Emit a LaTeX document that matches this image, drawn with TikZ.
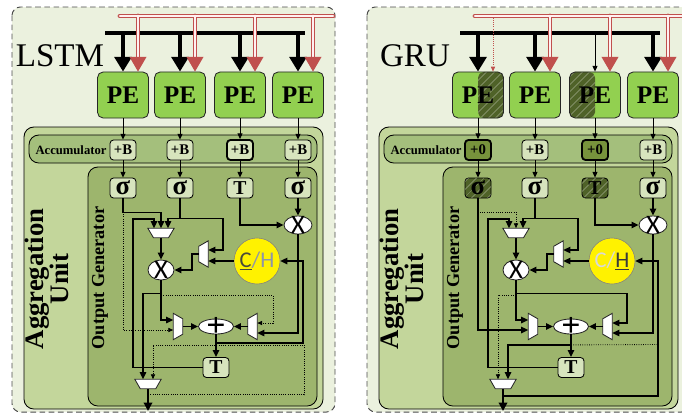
\documentclass[tikz,border=0pt]{standalone}
\usepackage{fontspec}
\setmainfont{Liberation Serif}
\newfontfamily\sanslabel{Carlito}
\usepackage{tikz}
\usetikzlibrary{shapes.geometric}
\usetikzlibrary{arrows.meta}
\usetikzlibrary{patterns.meta}
\usepackage{xcolor}
\definecolor{panelbg}{HTML}{EBF1DE}
\definecolor{aggfill}{HTML}{C3D69B}
\definecolor{accfill}{HTML}{A4BF7C}
\definecolor{genfill}{HTML}{9DB56D}
\definecolor{boxfill}{HTML}{D7E4BD}
\definecolor{zerofill}{HTML}{77933C}
\definecolor{hatchfill}{HTML}{4F6228}
\definecolor{pegreen}{HTML}{92D050}
\definecolor{busred}{HTML}{C0504D}
\definecolor{chdark}{HTML}{4A4A3A}
\definecolor{chmid}{HTML}{8E95A8}
\definecolor{chgrey}{HTML}{D9D9D9}
\definecolor{chblack}{HTML}{3A3A3A}
\newcommand{\sig}{{\fontsize{19}{19}\selectfont σ}}

\begin{document}
\begin{tikzpicture}[x=0.025cm, y=-0.025cm,
    panel/.style={draw=black!70, fill=panelbg, line width=0.7pt, dash pattern=on 4pt off 2.5pt, rounded corners=6pt},
    aggbox/.style={draw=black, fill=aggfill, line width=0.6pt, rounded corners=7pt},
    accstrip/.style={draw=black, fill=accfill, line width=0.6pt, rounded corners=7pt},
    genbox/.style={draw=black, fill=genfill, line width=0.6pt, rounded corners=7pt},
    titlelabel/.style={font=\fontsize{23.5}{28}\selectfont},
    agglabel/.style={rotate=90, align=center, font=\fontsize{19}{18}\selectfont\bfseries},
    genlabel/.style={rotate=90, font=\fontsize{13}{13}\selectfont\bfseries},
    acclabel/.style={font=\fontsize{9}{9}\selectfont\bfseries},
    hatch/.style={fill=hatchfill, postaction={pattern={Lines[angle=45,distance=4pt,line width=0.45pt]}, pattern color=white!60!hatchfill}},
    pebox/.style={draw=black!85, fill=pegreen, line width=0.6pt, rounded corners=4pt, minimum width=1.275cm, minimum height=1.15cm, inner sep=0pt, font=\fontsize{18}{18}\selectfont\bfseries},
    pehatchR/.style={pebox, path picture={\fill[hatch] (path picture bounding box.north) rectangle (path picture bounding box.south east);}},
    pehatchL/.style={pebox, path picture={\fill[hatch] (path picture bounding box.north west) rectangle (path picture bounding box.south);}},
    accbox/.style={draw=black, fill=boxfill, line width=0.6pt, rounded corners=2.5pt, minimum width=0.65cm, minimum height=0.5cm, inner sep=0pt, font=\fontsize{10.5}{10.5}\selectfont\bfseries},
    accbold/.style={accbox, line width=1.3pt},
    acczero/.style={accbox, fill=zerofill, line width=1.3pt},
    actbox/.style={accbox, font=\fontsize{14}{14}\selectfont\bfseries},
    acthatch/.style={actbox, hatch},
    mux/.style={draw=black!85, fill=white, line width=0.6pt},
    xnode/.style={ellipse, draw=black!85, fill=white, line width=0.6pt, minimum width=0.65cm, minimum height=0.5cm, inner sep=0pt, label={[font=\sanslabel\fontsize{19}{19}\selectfont, inner sep=0pt]center:X}},
    sumnode/.style={ellipse, draw=black!85, fill=white, line width=0.6pt, minimum width=0.875cm, minimum height=0.375cm, inner sep=0pt, label={[font=\fontsize{24}{24}\selectfont\bfseries, inner sep=0pt]center:+}},
    regnode/.style={circle, draw=black!50, fill=yellow, minimum size=1.15cm, inner sep=0pt, font=\sanslabel\fontsize{16}{16}\selectfont},
    wire/.style={line width=1.1pt, -{Triangle[length=5pt,width=4.5pt]}},
    thinwire/.style={line width=0.6pt, -{Triangle[length=4pt,width=3.5pt]}},
    dotwire/.style={line width=0.6pt, densely dotted, -{Triangle[length=3.5pt,width=3pt]}},
    dotline/.style={line width=0.6pt, densely dotted},
    outwire/.style={line width=1.4pt, -{Triangle[length=6pt,width=6pt]}},
    bus/.style={line width=3.5pt},
    busdrop/.style={line width=2.6pt, -{Triangle[length=10.5pt,width=12pt]}},
    redbus/.style={draw=busred, line width=0.8pt, double=red!6, double distance=1.8pt, line cap=round},
    reddrop/.style={redbus, line cap=butt, -{Triangle[length=10.5pt,width=12pt]}},
    reddot/.style={draw=busred, line width=0.5pt, densely dotted, -{Triangle[length=3.5pt,width=3pt]}},
  ]
\useasboundingbox (0,0) rectangle (682,415);
\clip (0,0) rectangle (682,415);

% frame and datapath shared by both cells
\foreach \p/\dx/\lab in {L/0/LSTM, G/355/GRU}{
  \begin{scope}[shift={(\dx,0)}]
    \draw[panel] (12,7) rectangle (335,412);
    \draw[aggbox] (24,127) rectangle (323,409);
    \draw[accstrip] (29,135) rectangle (317,163);
    \draw[genbox] (88,167) rectangle (317,406);
    \node[titlelabel] (\p-title) at (60,56) {\lab};
    \node[agglabel] (\p-agg) at (47,279) {Aggregation\\Unit};
    \node[genlabel] (\p-gen) at (100,278) {Output Generator};
    \node[acclabel] (\p-acc) at (71,150) {Accumulator};
    \draw[bus] (105,33) -- (305,33);
    % muxes
    \draw[mux] (147.8,228.2) -- (174.2,228.2) -- (168.5,237.8) -- (153.5,237.8) -- cycle;
    \draw[mux] (208.3,240.8) -- (208.3,267.2) -- (198.7,261.7) -- (198.7,246.3) -- cycle;
    \draw[mux] (173.2,313.3) -- (173.2,339.7) -- (182.8,334.2) -- (182.8,318.8) -- cycle;
    \draw[mux] (257.3,313.3) -- (257.3,339.7) -- (247.7,334.2) -- (247.7,318.8) -- cycle;
    \draw[mux] (134.8,379.2) -- (161.2,379.2) -- (155.7,388.8) -- (140.3,388.8) -- cycle;
    % multipliers, adder and output register
    \node[xnode] (\p-x1) at (161,270) {};
    \node[xnode, minimum width=0.7cm, minimum height=0.45cm] (\p-x2) at (298,225) {};
    \node[sumnode] (\p-sum) at (216,326.5) {};
    \node[actbox] (\p-tq) at (216,367.5) {T};
    % mux ports
    \coordinate (\p-m1a) at (154,228.2);
    \coordinate (\p-m1b) at (161,228.2);
    \coordinate (\p-m1c) at (168,228.2);
    \coordinate (\p-m1o) at (161,237.8);
    \coordinate (\p-m2a) at (208.3,250);
    \coordinate (\p-m2b) at (208.3,261);
    \coordinate (\p-m2o) at (198.7,254);
    \coordinate (\p-m4a) at (173.2,320);
    \coordinate (\p-m4b) at (173.2,330);
    \coordinate (\p-m4o) at (182.8,326.5);
    \coordinate (\p-m3a) at (257.3,323);
    \coordinate (\p-m3b) at (257.3,333);
    \coordinate (\p-m3o) at (247.7,326.5);
    \coordinate (\p-m5a) at (143,379.2);
    \coordinate (\p-m5b) at (153,379.2);
    \coordinate (\p-m5o) at (148,388.8);
    \coordinate (\p-out) at (148,411);
  \end{scope}
}

% LSTM cell
\draw[redbus] (120,16) -- (333,16) (138,16) -- (138,50) (195,16) -- (195,50)
  (255,16) -- (255,50) (313,16) -- (313,50);
\foreach \i/\cx/\ab/\t in {1/123/accbox/\sig, 2/180/accbox/\sig, 3/240/accbold/T, 4/298/accbox/\sig}{
  \coordinate (L-tap\i) at (\cx,33);
  \coordinate (L-rtap\i) at (\cx+15,40);
  \node[pebox] (L-pe\i) at (\cx,95) {PE};
  \node[\ab] (L-acc\i) at (\cx,150) {+B};
  \node[actbox] (L-act\i) at (\cx,188) {\t};
  \draw[busdrop] (L-tap\i) -- (L-pe\i);
  \draw[reddrop] (L-rtap\i) -- (L-rtap\i |- L-pe\i.north);
  \draw[thinwire] (L-pe\i) -- (L-acc\i);
  \draw[thinwire] (L-acc\i) -- (L-act\i);
}
\node[regnode] (L-ch) at (257,261) {\textcolor{chdark}{\underline{C}}\textcolor{chmid}{/H}};

\draw[wire] (L-act1.south) -- ++(0,14) -| (L-m1b);
\draw[dotwire] (L-act1.south) |- (L-m4b);
\draw[wire] (L-act2.south) -- ++(0,20) -| (L-m1c);
\draw[wire] (L-act2.south) -- ++(0,20) -| (223,250) -- (L-m2a);
\draw[wire] (L-act3.south) |- (L-x2);
\draw[wire] (L-act4) -- (L-x2);
\draw[wire] (L-tq.west) -| (133,219) -| (L-m1a);
\draw[wire] (L-m1o) -- (L-x1);
\draw[wire] (L-ch) -- (L-m2b);
\draw[wire] (L-m2o) -| (192,270) -- (L-x1);
\draw[wire] (L-x2) |- (L-m3b);
\draw[wire] (L-x1) |- (L-m4a);
\draw[wire] (L-x1.south) ++(0,13) -| (L-m5a);
\draw[dotwire] (L-x1.south) ++(0,15) -| (273,323) -- (L-m3a);
\draw[wire] (L-m4o) -- (L-sum);
\draw[wire] (L-m3o) -- (L-sum);
\draw[wire] (L-sum) -- (L-tq);
\draw[wire] (L-sum.south) ++(0,8.5) -| (303,261) -- (L-ch);
\draw[dotwire] (L-m5o) ++(0,6) -| (304,345) -| (L-m5b);
\draw[outwire] (L-m5o) -- (L-out);

% GRU cell
\begin{scope}[shift={(355,0)}]
\draw[redbus] (120,16) -- (345,16) (195,16) -- (195,50) (255,16) -- (255,50) (313,16) -- (313,50);
\coordinate (G-rdot) at (138,18);
\foreach \i/\cx/\pb/\ab/\al/\tb/\t in {1/123/pehatchR/acczero/+0/acthatch/\sig, 2/180/pebox/accbox/+B/actbox/\sig, 3/240/pehatchL/acczero/+0/acthatch/T, 4/298/pebox/accbox/+B/actbox/\sig}{
  \coordinate (G-tap\i) at (\cx,33);
  \coordinate (G-rtap\i) at (\cx+15,40);
  \node[\pb] (G-pe\i) at (\cx,95) {PE};
  \node[\ab] (G-acc\i) at (\cx,150) {\al};
  \node[\tb] (G-act\i) at (\cx,188) {\t};
  \draw[thinwire] (G-pe\i) -- (G-acc\i);
  \draw[thinwire] (G-acc\i) -- (G-act\i);
}
\draw[busdrop] (G-tap1) -- (G-pe1);
\draw[busdrop] (G-tap2) -- (G-pe2);
\draw[thinwire] (G-tap3) -- (G-pe3);
\draw[busdrop] (G-tap4) -- (G-pe4);
\draw[reddot] (G-rdot) -- (G-rdot |- G-pe1.north);
\draw[reddrop] (G-rtap2) -- (G-rtap2 |- G-pe2.north);
\draw[reddrop] (G-rtap3) -- (G-rtap3 |- G-pe3.north);
\draw[reddrop] (G-rtap4) -- (G-rtap4 |- G-pe4.north);
\node[regnode] (G-ch) at (257,261) {\textcolor{chgrey}{C/}\textcolor{chblack}{\underline{H}}};

\draw[wire] (G-act1.south) |- (G-m4b);
\draw[dotwire] (G-act1.south) -- ++(0,14) -| (G-m1b);
\draw[wire] (G-act2.south) -- ++(0,20) -| (G-m1c);
\draw[wire] (G-act2.south) -- ++(0,20) -| (223,250) -- (G-m2a);
\draw[wire] (G-act3.south) |- (G-x2);
\draw[wire] (G-act4) -- (G-x2);
\draw[wire] (G-tq.west) -| (133,219) -| (G-m1a);
\draw[wire] (G-m1o) -- (G-x1);
\draw[wire] (G-ch) -- (G-m2b);
\draw[wire] (G-m2o) -| (192,270) -- (G-x1);
\draw[wire] (G-x2) |- (G-m3b);
\draw[wire] (G-x1) |- (G-m4a);
\draw[wire] (G-x1.south) ++(0,13) -| (272,323) -- (G-m3a);
\draw[dotwire] (G-x1.south) ++(0,15) -| (G-m5a);
\draw[wire] (G-m4o) -- (G-sum);
\draw[wire] (G-m3o) -- (G-sum);
\draw[wire] (G-sum) -- (G-tq);
\draw[wire] (G-sum.south) ++(0,10.5) -| (G-m5b);
\draw[dotline] (G-sum.south) ++(0,10.5) -- (303,344.5);
\draw[wire] (G-m5o) ++(0,7) -| (303,261) -- (G-ch);
\draw[outwire] (G-m5o) -- (G-out);
\end{scope}
\end{tikzpicture}
\end{document}
